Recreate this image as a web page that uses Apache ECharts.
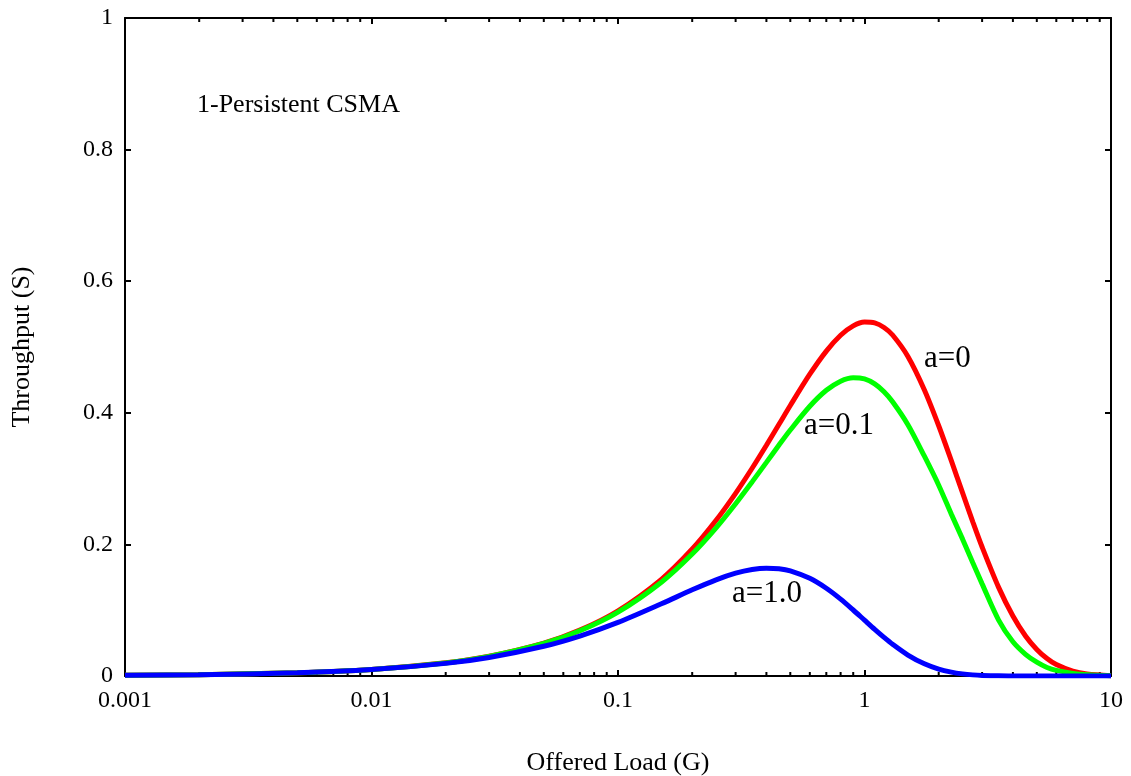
<!DOCTYPE html>
<html>
<head>
<meta charset="utf-8">
<script src="https://cdn.jsdelivr.net/npm/echarts@6/dist/echarts.min.js"></script>
<style>
html,body{margin:0;padding:0;background:#fff;}
#chart{width:1131px;height:776px;}
</style>
</head>
<body>
<div id="chart"></div>
<script>
// ---- data ----
const loadG = [0.001, 0.002, 0.005, 0.01, 0.02, 0.03, 0.05, 0.07, 0.1, 0.15, 0.2, 0.25, 0.3, 0.35, 0.4, 0.45, 0.5, 0.6, 0.7, 0.8, 0.9, 1.0, 1.1, 1.2, 1.3, 1.5, 1.75, 2, 2.25, 2.5, 2.75, 3, 3.5, 4, 4.5, 5, 5.5, 6, 7, 8, 10];
const sA0  = [0.0010, 0.0020, 0.0050, 0.0100, 0.0200, 0.0300, 0.0499, 0.0697, 0.0991, 0.1469, 0.1929, 0.2366, 0.2776, 0.3157, 0.3507, 0.3825, 0.4111, 0.4586, 0.4938, 0.5179, 0.5321, 0.5379, 0.5366, 0.5297, 0.5182, 0.4856, 0.4347, 0.3803, 0.3272, 0.2782, 0.2343, 0.1960, 0.1347, 0.0912, 0.0609, 0.0404, 0.0265, 0.0173, 0.0073, 0.0030, 0.0005];
const sA01 = [0.0010, 0.0020, 0.0050, 0.0100, 0.0199, 0.0298, 0.0494, 0.0687, 0.0971, 0.1426, 0.1854, 0.2252, 0.2618, 0.2950, 0.3247, 0.3510, 0.3738, 0.4099, 0.4342, 0.4481, 0.4534, 0.4516, 0.4440, 0.4321, 0.4169, 0.3820, 0.3340, 0.2900, 0.2460, 0.2080, 0.1720, 0.1400, 0.0850, 0.0520, 0.0330, 0.0210, 0.0130, 0.0085, 0.0040, 0.0020, 0.0005];
const sA1  = [0.0010, 0.0020, 0.0049, 0.0098, 0.0192, 0.0282, 0.0452, 0.0607, 0.0814, 0.1097, 0.1310, 0.1462, 0.1563, 0.1619, 0.1639, 0.1630, 0.1598, 0.1484, 0.1333, 0.1168, 0.1003, 0.0849, 0.0710, 0.0588, 0.0483, 0.0319, 0.0185, 0.0105, 0.0059, 0.0032, 0.0017, 0.0009, 0.0002, 0.0001, 0, 0, 0, 0, 0, 0, 0];
const xTickLabels = {'0.001':'0.001','0.01':'0.01','0.1':'0.1','1':'1','10':'10'};
const yTickLabels = ['0', '0.2', '0.4', '0.6', '0.8', '1'];
const minorMultipliers = [2, 3, 4, 5, 6, 7, 8, 9];
const decades = [0.001, 0.01, 0.1, 1];
const seriesNames = ['a=0', 'a=0.1', 'a=1.0'];
const seriesColors = ['#ff0000', '#00ff00', '#0000ff'];

const minorTicks = [];
decades.forEach(d => minorMultipliers.forEach(m => minorTicks.push([+(d * m).toPrecision(3)])));

const font = '"Liberation Serif", "Times New Roman", serif';
const chart = echarts.init(document.getElementById('chart'), null, {renderer: 'canvas'});

function pair(vals){ return loadG.map((g, i) => [g, vals[i]]); }

const axisLineStyle = {color: '#000', width: 2};
const xLabelFmt = v => { const k = String(+(+v).toPrecision(3)); return xTickLabels[k] !== undefined ? xTickLabels[k] : ''; };
const yLabelFmt = v => { const i = Math.round(v / 0.2); return yTickLabels[i] !== undefined ? yTickLabels[i] : ''; };

const option = {
  animation: false,
  backgroundColor: '#fff',
  grid: {left: 125, right: 20, top: 18, bottom: 100, containLabel: false, outerBoundsMode: 'none'},
  xAxis: [
    {
      type: 'log', logBase: 10, min: 0.001, max: 10, position: 'bottom',
      name: 'Offered Load (G)', nameLocation: 'middle', nameGap: 74,
      nameTextStyle: {fontFamily: font, fontSize: 26, color: '#000'},
      axisLine: {show: true, onZero: false, lineStyle: axisLineStyle},
      axisTick: {show: true, inside: true, length: 6, lineStyle: {color: '#000', width: 2}},
      axisLabel: {show: true, margin: 13, fontFamily: font, fontSize: 24, color: '#000', formatter: xLabelFmt},
      splitLine: {show: false}, minorTick: {show: false}
    },
    {
      type: 'log', logBase: 10, min: 0.001, max: 10, position: 'top',
      axisLine: {show: true, onZero: false, lineStyle: axisLineStyle},
      axisTick: {show: true, inside: true, length: 6, lineStyle: {color: '#000', width: 2}},
      axisLabel: {show: false}, splitLine: {show: false}
    }
  ],
  yAxis: [
    {
      type: 'value', min: 0, max: 1, interval: 0.2, position: 'left',
      name: 'Throughput (S)', nameLocation: 'middle', nameGap: 90, nameRotate: 90,
      nameTextStyle: {fontFamily: font, fontSize: 26, color: '#000'},
      axisLine: {show: true, onZero: false, lineStyle: axisLineStyle},
      axisTick: {show: true, inside: true, length: 6, lineStyle: {color: '#000', width: 2}},
      axisLabel: {show: true, margin: 12, fontFamily: font, fontSize: 24, color: '#000', formatter: yLabelFmt},
      splitLine: {show: false}
    },
    {
      type: 'value', min: 0, max: 1, interval: 0.2, position: 'right',
      axisLine: {show: true, onZero: false, lineStyle: axisLineStyle},
      axisTick: {show: true, inside: true, length: 6, lineStyle: {color: '#000', width: 2}},
      axisLabel: {show: false}, splitLine: {show: false}
    }
  ],
  series: [
    {
      type: 'custom', name: 'minorTicks', silent: true, clip: false, z: 1,
      xAxisIndex: 0, yAxisIndex: 0,
      data: minorTicks,
      renderItem: function (params, api) {
        const pb = api.coord([api.value(0), 0]);
        const pt = api.coord([api.value(0), 1]);
        return {
          type: 'group',
          children: [
            {type: 'line', shape: {x1: pb[0], y1: pb[1], x2: pb[0], y2: pb[1] - 4}, style: {stroke: '#000', lineWidth: 2}},
            {type: 'line', shape: {x1: pt[0], y1: pt[1], x2: pt[0], y2: pt[1] + 4}, style: {stroke: '#000', lineWidth: 2}}
          ]
        };
      }
    },
    {type: 'line', name: seriesNames[0], data: pair(sA0), showSymbol: false, smooth: 0.3, z: 3,
     lineStyle: {color: seriesColors[0], width: 5}, itemStyle: {color: seriesColors[0]}},
    {type: 'line', name: seriesNames[1], data: pair(sA01), showSymbol: false, smooth: 0.3, z: 4,
     lineStyle: {color: seriesColors[1], width: 5}, itemStyle: {color: seriesColors[1]}},
    {type: 'line', name: seriesNames[2], data: pair(sA1), showSymbol: false, smooth: 0.3, z: 5,
     lineStyle: {color: seriesColors[2], width: 5}, itemStyle: {color: seriesColors[2]}}
  ],
  graphic: [
    {type: 'text', left: 197, top: 92, style: {text: '1-Persistent CSMA', fontFamily: font, fontSize: 26, fill: '#000'}},
    {type: 'text', left: 924, top: 343, style: {text: seriesNames[0], fontFamily: font, fontSize: 31, fill: '#000'}},
    {type: 'text', left: 804, top: 410, style: {text: seriesNames[1], fontFamily: font, fontSize: 31, fill: '#000'}},
    {type: 'text', left: 732, top: 578, style: {text: seriesNames[2], fontFamily: font, fontSize: 31, fill: '#000'}}
  ]
};
chart.setOption(option);
</script>
</body>
</html>
